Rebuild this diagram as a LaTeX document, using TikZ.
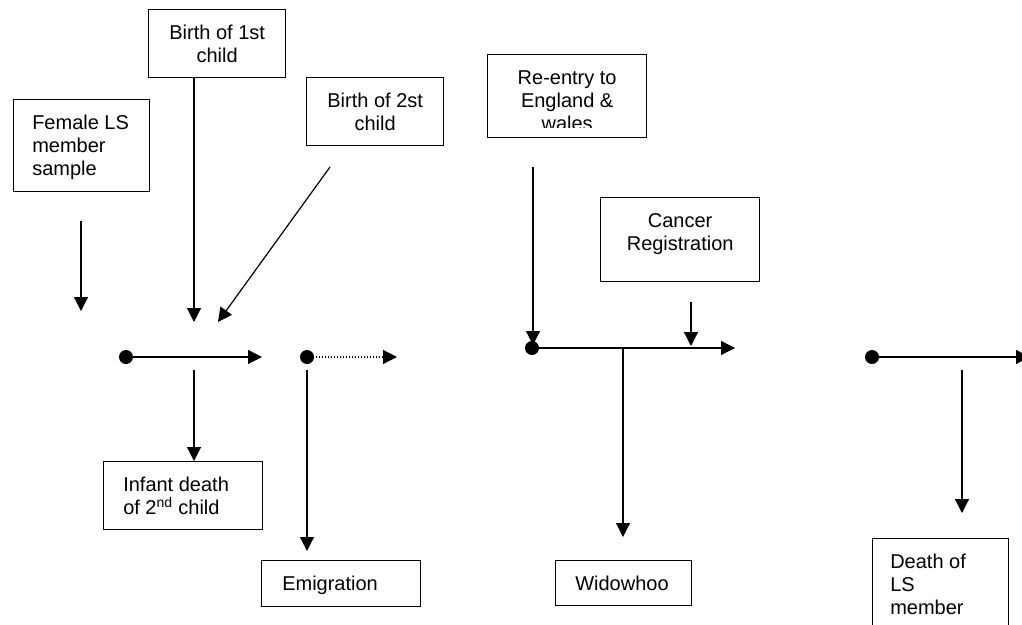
\documentclass[tikz,border=0pt]{standalone}
\usepackage{fontspec}
\setmainfont{Liberation Sans}
\usetikzlibrary{arrows.meta, positioning}

\tikzset{
  evbox/.style={draw, line width=1pt, inner sep=0pt, anchor=north west},
  evtext/.style={inner sep=0pt, font=\fontsize{15}{17.25}\selectfont},
  arr/.style={line width=0.9pt, -{Triangle[length=10.5pt, width=10.5pt]}},
  dot/.style={circle, fill, inner sep=0pt, minimum size=10.5pt},
}
\newcommand{\tstrut}{\rule{0pt}{12pt}}

\begin{document}
\begin{tikzpicture}[x=0.75pt, y=-0.75pt]
\useasboundingbox (0,0) rectangle (1022,625);
\clip (0,0) rectangle (1022,625);

% event boxes
\node[evbox, minimum width=102pt, minimum height=69pt] (female) at (13,99) {};
\node[evbox, minimum width=102.75pt, minimum height=51pt] (birth1) at (148,9) {};
\node[evbox, minimum width=102.75pt, minimum height=51pt] (birth2) at (306,77) {};
\node[evbox, minimum width=119.25pt, minimum height=62.25pt] (reentry) at (487,54) {};
\node[evbox, minimum width=119.25pt, minimum height=63pt] (cancer) at (600,197) {};
\node[evbox, minimum width=119.25pt, minimum height=51pt] (infant) at (103,461) {};
\node[evbox, minimum width=119.25pt, minimum height=34.5pt] (emig) at (261,560) {};
\node[evbox, minimum width=102pt, minimum height=33.75pt] (widow) at (555,560) {};
\node[evbox, minimum width=102pt, minimum height=76.5pt] (death) at (872,538) {};

% box texts
\node[evtext, anchor=north west, align=left] (female-t) at ([shift={(19,14)}]female.north west) {\tstrut Female LS\\member\\sample};
\node[evtext, anchor=north, align=center] (birth1-t) at ([yshift=-10.5pt]birth1.north) {\tstrut Birth of 1st\\child};
\node[evtext, anchor=north, align=center] (birth2-t) at ([yshift=-10.5pt]birth2.north) {\tstrut Birth of 2st\\child};
\begin{scope}
  \clip (487,54) rectangle (646,127);
  \node[evtext, anchor=north, align=center] (reentry-t) at ([yshift=-10.5pt]reentry.north) {\tstrut Re-entry to\\England \&\\wales};
\end{scope}
\node[evtext, anchor=north, align=center] (cancer-t) at ([yshift=-10.5pt]cancer.north) {\tstrut Cancer\\Registration};
\node[evtext, anchor=north west, align=left] (infant-t) at ([shift={(20,14)}]infant.north west) {\tstrut Infant death\\of 2\textsuperscript{nd} child};
\node[evtext, anchor=north west, align=left] (emig-t) at ([shift={(21,14)}]emig.north west) {\tstrut Emigration};
\node[evtext, anchor=north west, align=left] (widow-t) at ([shift={(20,14)}]widow.north west) {\tstrut Widowhoo};
\node[evtext, anchor=north west, align=left] (death-t) at ([shift={(18,14)}]death.north west) {\tstrut Death of\\LS\\member};

% timelines
\node[dot] (dot1) at (126,357) {};
\node[dot] (dot2) at (307,357) {};
\node[dot] (dot3) at (532,348) {};
\node[dot] (dot4) at (872,357) {};
\coordinate (t1end) at (262,357);
\coordinate (t2end) at (397,357);
\coordinate (t3end) at (735,348);
\coordinate (t4end) at (1030,357);
\draw[arr] (dot1.center) -- (t1end);
\draw[arr, dash pattern=on 0.75pt off 1.5pt] (dot2.center) -- (t2end);
\draw[arr] (dot3.center) -- (t3end);
\draw[arr] (dot4.center) -- (t4end);

% incoming events
\coordinate (fstart) at (81,221);
\coordinate (fend) at (81,311);
\coordinate (b1end) at (194,322);
\coordinate (b2start) at (330,167);
\coordinate (b2end) at (218,322);
\coordinate (rstart) at (533,167);
\coordinate (rend) at (533,345);
\coordinate (cstart) at (691,302);
\coordinate (cend) at (691,346);
\draw[arr] (fstart) -- (fend);
\draw[arr] (b1end |- birth1.south) -- (b1end);
\draw[arr] (b2start) -- (b2end);
\draw[arr] (rstart) -- (rend);
\draw[arr] (cstart) -- (cend);

% outgoing events
\coordinate (istart) at (194,370);
\coordinate (estart) at (307,370);
\coordinate (eend) at (307,551);
\coordinate (wstart) at (623,348);
\coordinate (wend) at (623,537);
\coordinate (dstart) at (962,370);
\coordinate (dend) at (962,513);
\draw[arr] (istart) -- (istart |- infant.north);
\draw[arr] (estart) -- (eend);
\draw[arr] (wstart) -- (wend);
\draw[arr] (dstart) -- (dend);
\end{tikzpicture}
\end{document}
